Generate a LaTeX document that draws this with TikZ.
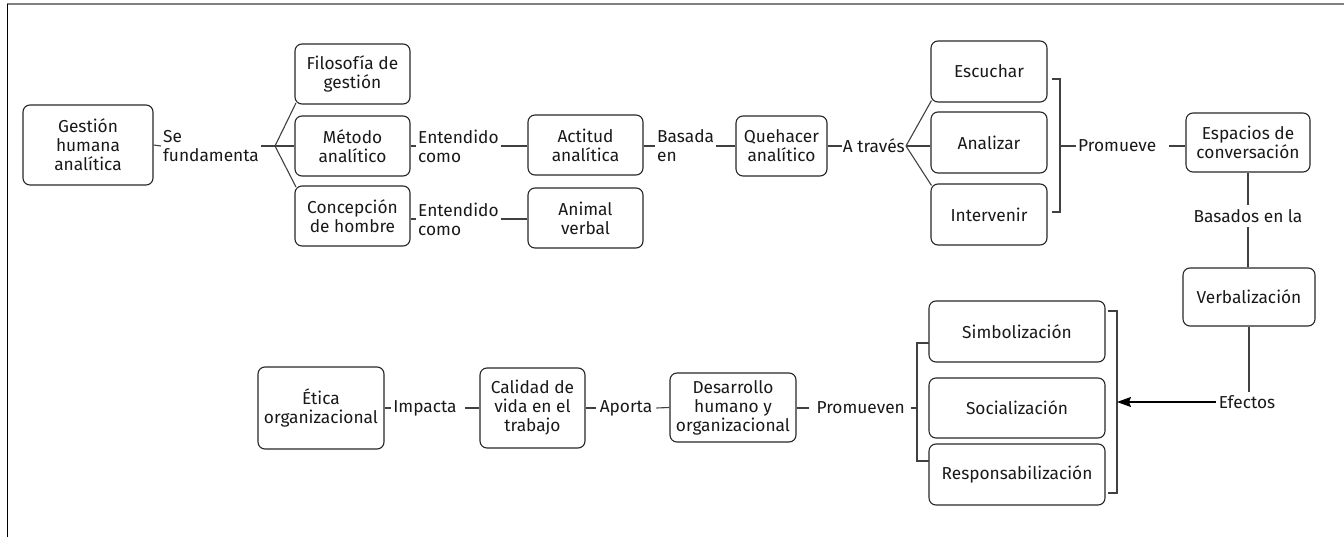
\documentclass[tikz,border=0pt]{standalone}
\usepackage{fontspec}
\setmainfont{Fira Sans}
\usetikzlibrary{arrows.meta,calc}
\begin{document}
\begin{tikzpicture}[x=1pt,y=-1pt,
  every node/.style={font=\fontsize{17.3}{19}\selectfont, text=black!90},
  box/.style={draw=black!85, line width=1.1pt, rounded corners=7pt, align=center, inner sep=1pt},
  bA/.style={box, minimum width=115pt, minimum height=60pt},
  bB/.style={box, minimum width=116pt, minimum height=61pt},
  bC/.style={box, minimum width=176pt, minimum height=61pt},
  lbl/.style={align=left, inner sep=2pt},
  conn/.style={draw=black!75, line width=1.1pt}
]
\useasboundingbox (0,0) rectangle (1344,537);
\draw[black!50, line width=2pt] (7,4.5) -- (1344,4.5);
\draw[black, line width=1.3pt] (7.3,4) -- (7.3,537);

% first row
\node[box, minimum width=130pt, minimum height=80pt] (gha) at (88,145) {Gestión\\humana\\analítica};
\node[lbl, anchor=west] (sef) at (161,146) {Se\\fundamenta};
\coordinate (b1) at (275,146);
\node[bA] (fil) at (352.5,74) {Filosofía de\\gestión};
\node[bA] (met) at (352.5,146) {Método\\analítico};
\node[bA] (con) at (352.5,216) {Concepción\\de hombre};
\draw[conn] (gha.east) -- (sef.west);
\draw[conn] (sef.east) -- (b1);
\draw[conn] (b1) -- ($(fil.south west)+(1.5,-1.5)$);
\draw[conn] (b1) -- (met.west);
\draw[conn] (b1) -- ($(con.north west)+(1.5,1.5)$);

\node[lbl, anchor=west] (ent1) at (416,146) {Entendido\\como};
\node[lbl, anchor=west] (ent2) at (416,219) {Entendido\\como};
\node[bA] (act) at (585.5,145) {Actitud\\analítica};
\node[bA] (ani) at (585.5,218) {Animal\\verbal};
\draw[conn] (met.east) -- (ent1.west);
\draw[conn] (ent1.east) -- (act.west |- ent1.east);
\draw[conn] (ent2.west -| con.east) -- (ent2.west);
\draw[conn] (ent2.east) -- (ani.west |- ent2.east);

\node[lbl, anchor=west] (bas) at (655,146) {Basada\\en};
\node[box, minimum width=91pt, minimum height=60pt] (que) at (781.5,146) {Quehacer\\analítico};
\draw[conn] (act.east |- bas.west) -- (bas.west);
\draw[conn] (bas.east) -- (que.west);

\node[lbl, anchor=east, inner sep=1pt] (atr) at (906,146) {A través};
\coordinate (b2) at (906,146);
\node[bB] (esc) at (989,71.5) {Escuchar};
\node[bB] (ana) at (989,142.5) {Analizar};
\node[bB] (int) at (989,214.5) {Intervenir};
\draw[conn] (que.east) -- (atr.west);
\draw[conn] (b2) -- ($(esc.south west)+(1,-2)$);
\draw[conn] (b2) -- (ana.west |- b2);
\draw[conn] (b2) -- ($(int.north west)+(1,2)$);

\coordinate (k1) at (1052,79);
\coordinate (k2) at (1060,146);
\coordinate (k3) at (1052,212);
\draw[conn] (k1) -| (k2) |- (k3);

\node[lbl, anchor=west] (prom) at (1076,146) {Promueve};
\node[box, minimum width=124pt, minimum height=59pt] (esp) at (1248,142.5) {Espacios de\\conversación};
\draw[conn] (k2) -- (prom.west);
\draw[conn] ($(prom.east)+(10,0)$) -- (esp.west |- prom.east);

\node[lbl, align=center, inner sep=4pt] (basla) at (1248,216) {Basados en la};
\node[box, minimum width=132pt, minimum height=58pt] (ver) at (1249,297) {Verbalización};
\node[lbl, align=center, inner sep=3pt] (efe) at (1247,402) {Efectos};
\draw[conn] (esp.south) -- (basla.north);
\draw[conn] (basla.south) -- (ver.north -| basla.south);
\draw[conn] (ver.south) -- (efe.north -| ver.south);

% second row
\node[bC] (sim) at (1017,331.5) {Simbolización};
\node[box, minimum width=176pt, minimum height=60pt] (soc) at (1017,408) {Socialización};
\node[bC] (res) at (1017,474.5) {Responsabilización};

\coordinate (r1) at (1108,311);
\coordinate (r2) at (1117,402);
\coordinate (r3) at (1108,493);
\draw[conn] (r1) -| (r2) |- (r3);
\draw[draw=black, line width=1.1pt, -{Stealth[length=14pt,width=10pt,inset=2pt]}] (efe.west) -- (r2);

\coordinate (l1) at (929,343);
\coordinate (l2) at (917,408);
\coordinate (l3) at (929,461);
\draw[conn] (l1) -| (l2) |- (l3);

\node[lbl, anchor=east, inner sep=6pt] (proms) at (911,408) {Promueven};
\draw[conn] (proms.east) -- (l2);

\node[box, minimum width=126pt, minimum height=69pt] (des) at (733,407.5) {Desarrollo\\humano y\\organizacional};
\node[box, minimum width=105pt, minimum height=80pt] (cal) at (532.5,408) {Calidad de\\vida en el\\trabajo};
\node[box, minimum width=126pt, minimum height=82pt] (eti) at (321,408) {Ética\\organizacional};

\draw[conn] (des.east |- proms.west) -- ($(proms.west)+(-1,0)$);
\node[lbl, inner sep=4pt] (apo) at (626,408) {Aporta};
\draw[conn] (cal.east) -- (apo.west);
\draw[conn] (apo.east) -- (des.west);
\node[lbl, inner sep=2pt] (imp) at (425,408) {Impacta};
\draw[conn] (eti.east) -- (imp.west);
\draw[conn] ($(imp.east)+(6,0)$) -- (cal.west);
\end{tikzpicture}
\end{document}
